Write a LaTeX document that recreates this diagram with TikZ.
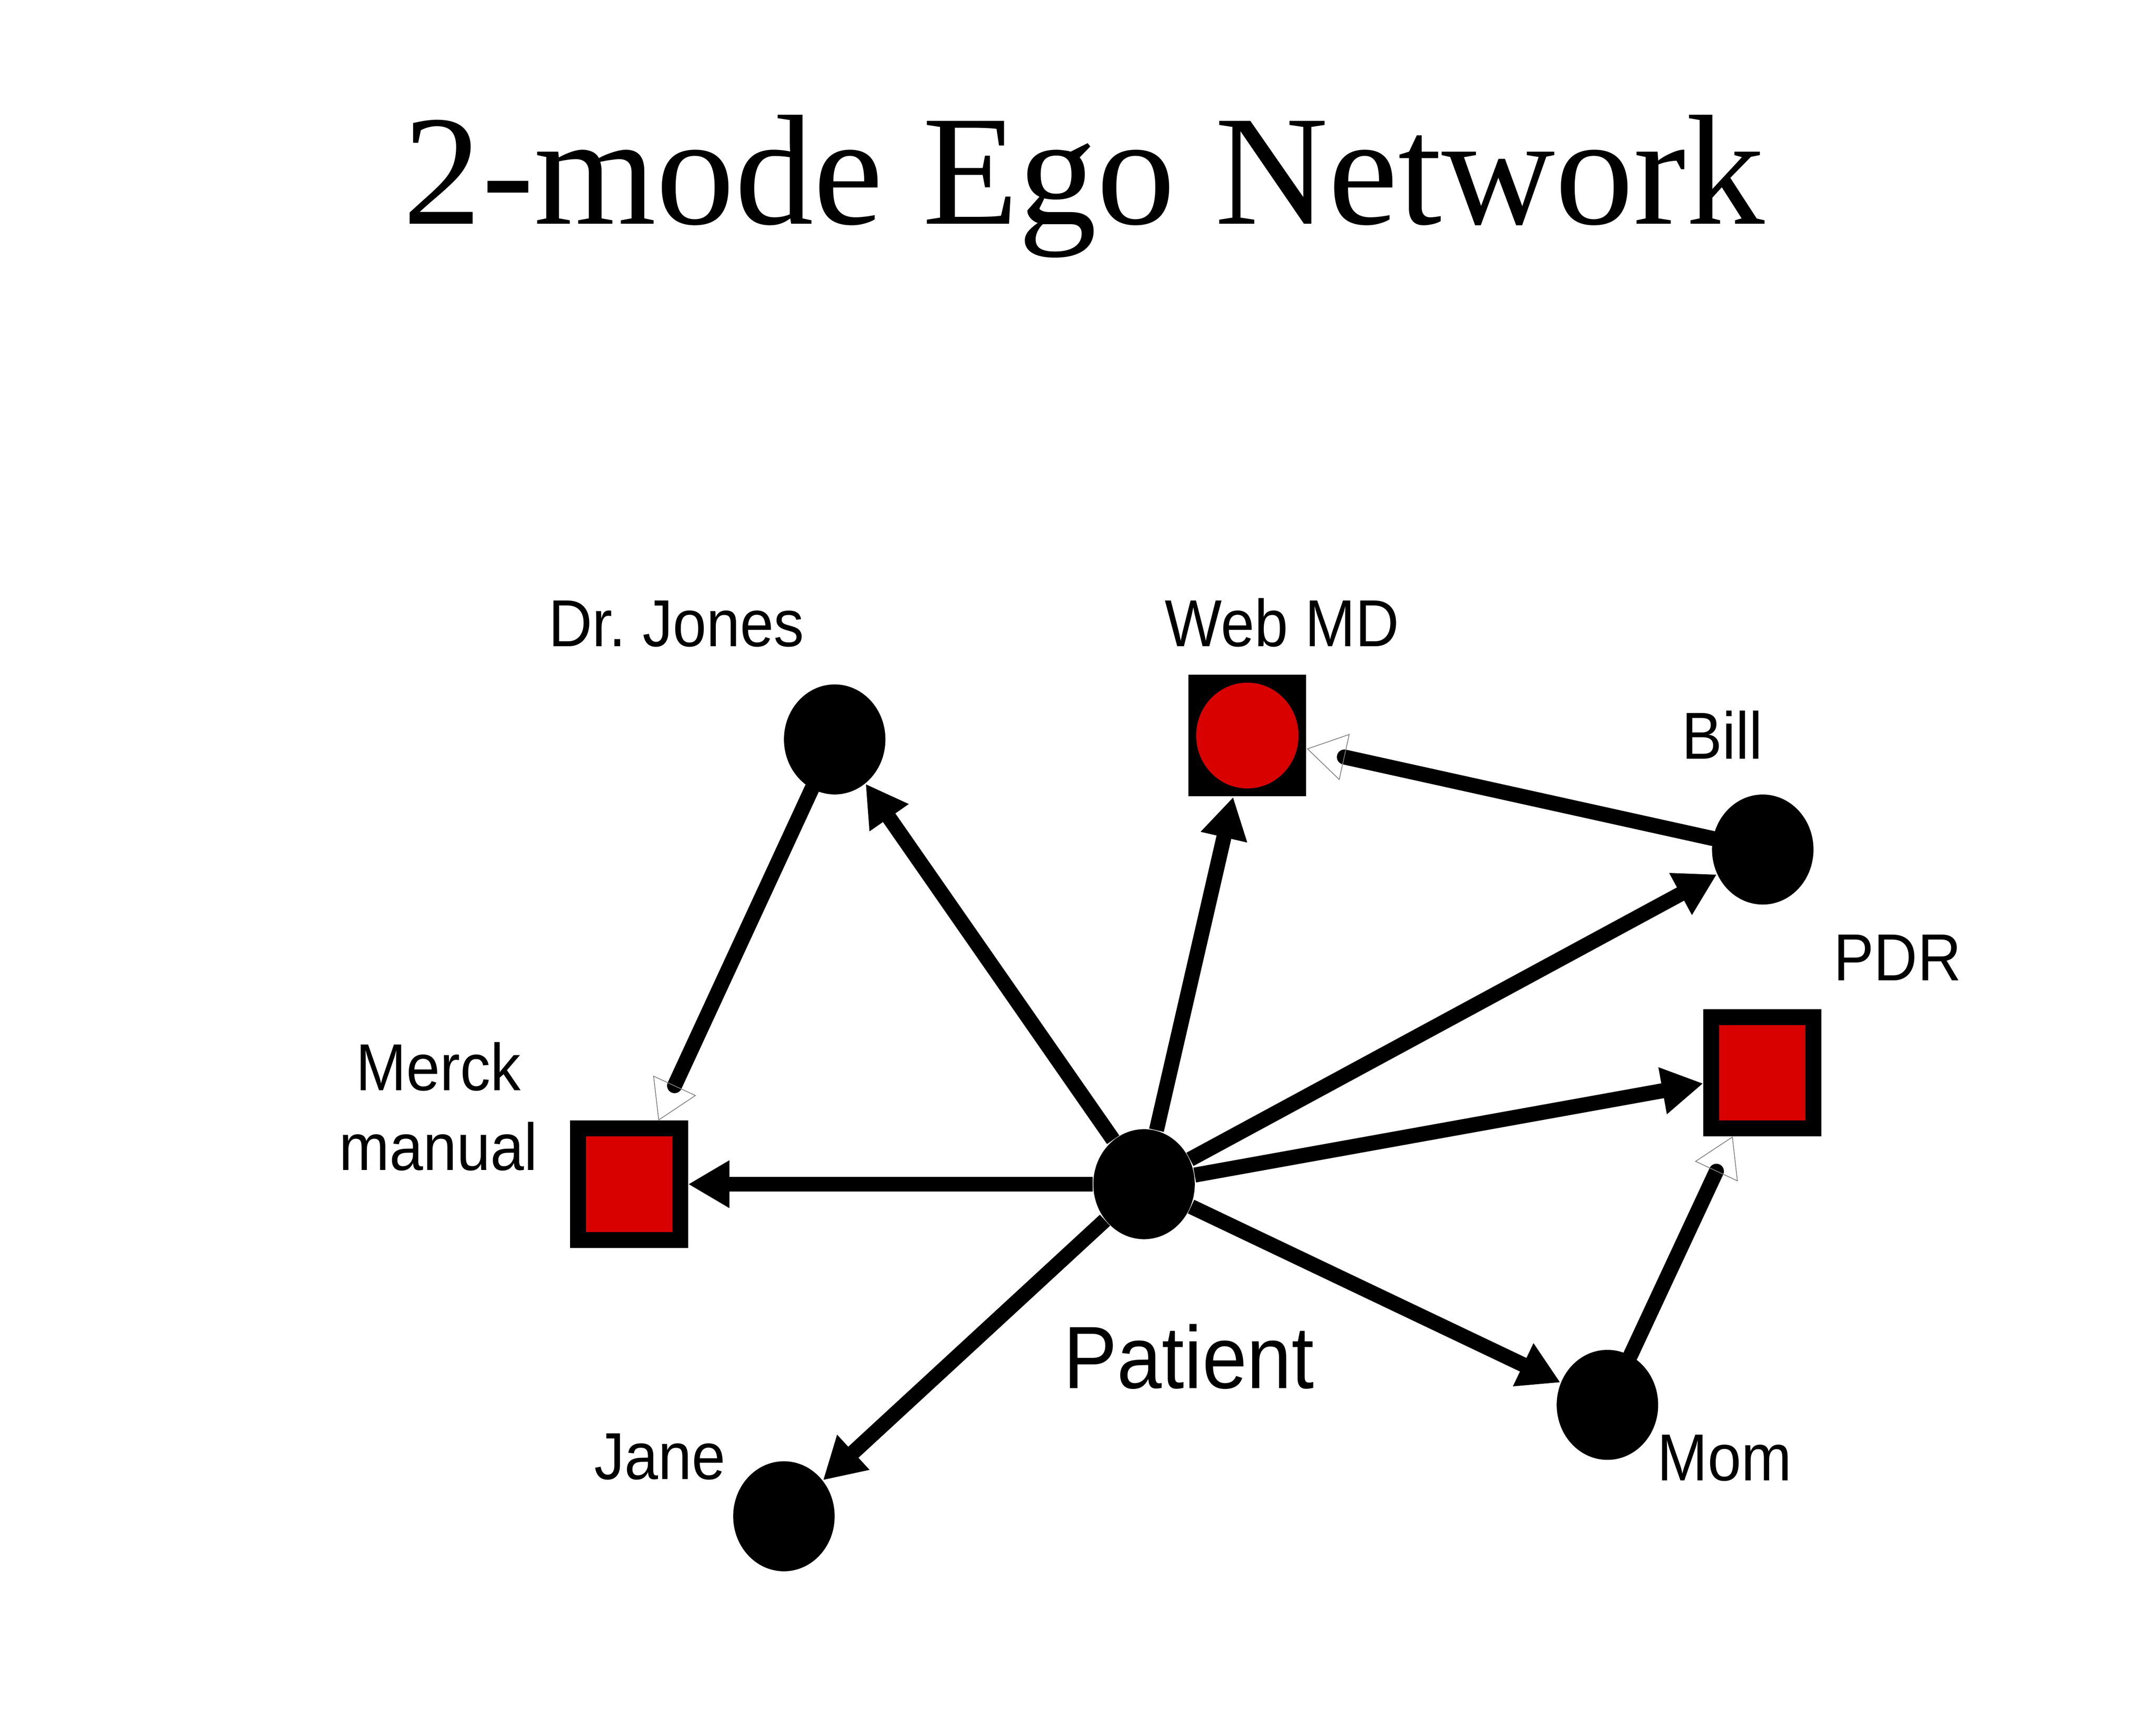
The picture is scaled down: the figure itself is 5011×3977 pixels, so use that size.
\documentclass[tikz,border=0pt]{standalone}
\usepackage{fontspec}
\setmainfont{Liberation Serif}
\newfontfamily\labelfont[FakeStretch=0.91]{Liberation Sans}
\usetikzlibrary{shapes.geometric,arrows.meta}
\definecolor{boxred}{RGB}{217,0,0}

\begin{document}
\begin{tikzpicture}[
        x=0.005cm, y=-0.005cm,
        actor/.style={ellipse, fill=black, inner sep=0pt, minimum width=1.18cm, minimum height=1.28cm},
        source/.style={rectangle, draw=black, line width=0.185cm, fill=boxred, inner sep=0pt, minimum width=1.19cm, minimum height=1.295cm},
        website/.style={rectangle, fill=black, inner sep=0pt, minimum width=1.37cm, minimum height=1.415cm},
        tie/.style={line width=0.175cm, -{Triangle[length=0.48cm, width=0.52cm]}},
        referral/.style={line width=0.175cm, line cap=round, -{Triangle[open, length=0.45cm, width=0.55cm, line width=0.25pt, color=gray]}},
        lbl/.style={font=\labelfont\fontsize{22}{26.4}\selectfont, anchor=base, inner sep=0pt}
    ]
        \useasboundingbox (0,0) rectangle (5011,3977);

        % Title
        \node[font=\fontsize{52}{60}\selectfont, anchor=base] (title) at (2519,521) {2-mode Ego Network};

        % People
        \foreach \name/\x/\y in {
            patient/2659/2753,
            drjones/1940/1719,
            bill/4097/1975,
            mom/3736/3266,
            jane/1822/3525
        } {
            \node[actor] (\name) at (\x,\y) {};
        }

        % Information sources
        \node[source] (merck) at (1462,2753) {};
        \node[source] (pdr) at (4096,2494) {};
        \node[website] (webmd) at (2899,1710) {};
        \node[ellipse, fill=boxred, inner sep=0pt, minimum width=1.19cm, minimum height=1.23cm] (webmd-dot) at (webmd) {};

        % Labels
        \node[lbl] (drjones-label) at (1572,1503) {Dr.\ Jones};
        \node[lbl] (webmd-label) at (2980,1503) {Web MD};
        \node[lbl] (bill-label) at (4003,1764) {Bill};
        \node[lbl] (pdr-label) at (4410,2279) {PDR};
        \node[lbl, align=center] (merck-label) at (1019,2720) {Merck\\manual};
        \node[lbl] (jane-label) at (1534,3439) {Jane};
        \node[lbl] (mom-label) at (4008,3442) {Mom};
        \node[lbl, font=\labelfont\fontsize{29.3}{35}\selectfont] (patient-label) at (2763,3228) {Patient};

        % Ego ties
        \foreach \target in {merck, drjones, webmd, bill, pdr, mom, jane} {
            \draw[tie] (patient) -- (\target);
        }

        % Alter ties
        \draw[referral] (drjones) -- (merck);
        \draw[referral] (bill) -- (webmd);
        \draw[referral] (mom) -- (pdr);
    \end{tikzpicture}
\end{document}
